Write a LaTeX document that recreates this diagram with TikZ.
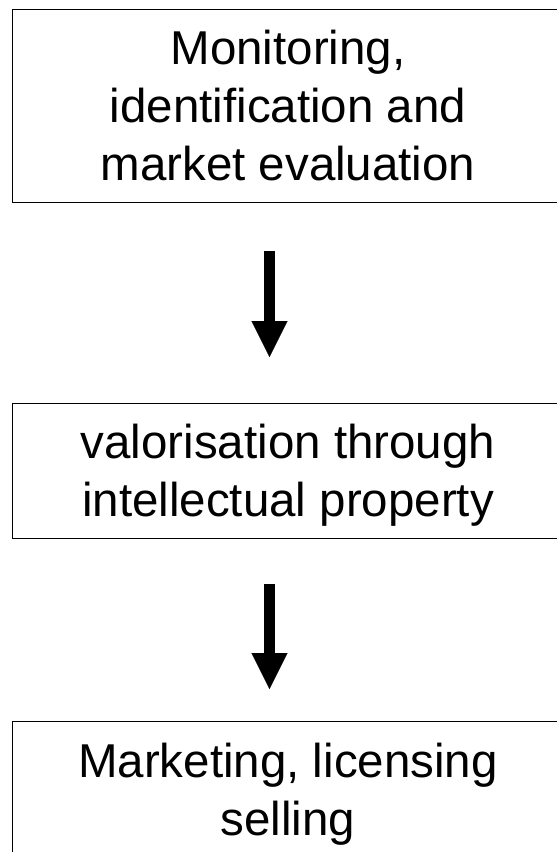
\documentclass[tikz,border=0pt]{standalone}
\usepackage{fontspec}
\setmainfont{Liberation Sans}
\usetikzlibrary{arrows.meta}
\begin{document}
\begin{tikzpicture}[x=1pt,y=-1pt,
  box/.style={draw=black, line width=1pt, align=center, inner sep=0pt,
    font=\fontsize{47.5}{58}\selectfont, text depth=0pt, minimum width=552pt},
  flow/.style={line width=11pt, -{Triangle[length=36pt,width=36pt,line width=0.1pt]}}]
\useasboundingbox (0,0) rectangle (557,852);
\node[box, minimum height=192.5pt] (b1) at (288,105.75) {Monitoring,\\identification and\\market evaluation};
\node[box, minimum height=135pt] (b2) at (288,470.5) {valorisation through\\intellectual property};
\node[box, minimum height=137pt] (b3) at (288,789.5) {Marketing, licensing\\selling};
\coordinate (a1s) at (269.5,251);
\coordinate (a1e) at (269.5,357);
\coordinate (a2s) at (269.5,584);
\coordinate (a2e) at (269.5,689);
\draw[flow] (a1s) -- (a1e);
\draw[flow] (a2s) -- (a2e);
\end{tikzpicture}
\end{document}
